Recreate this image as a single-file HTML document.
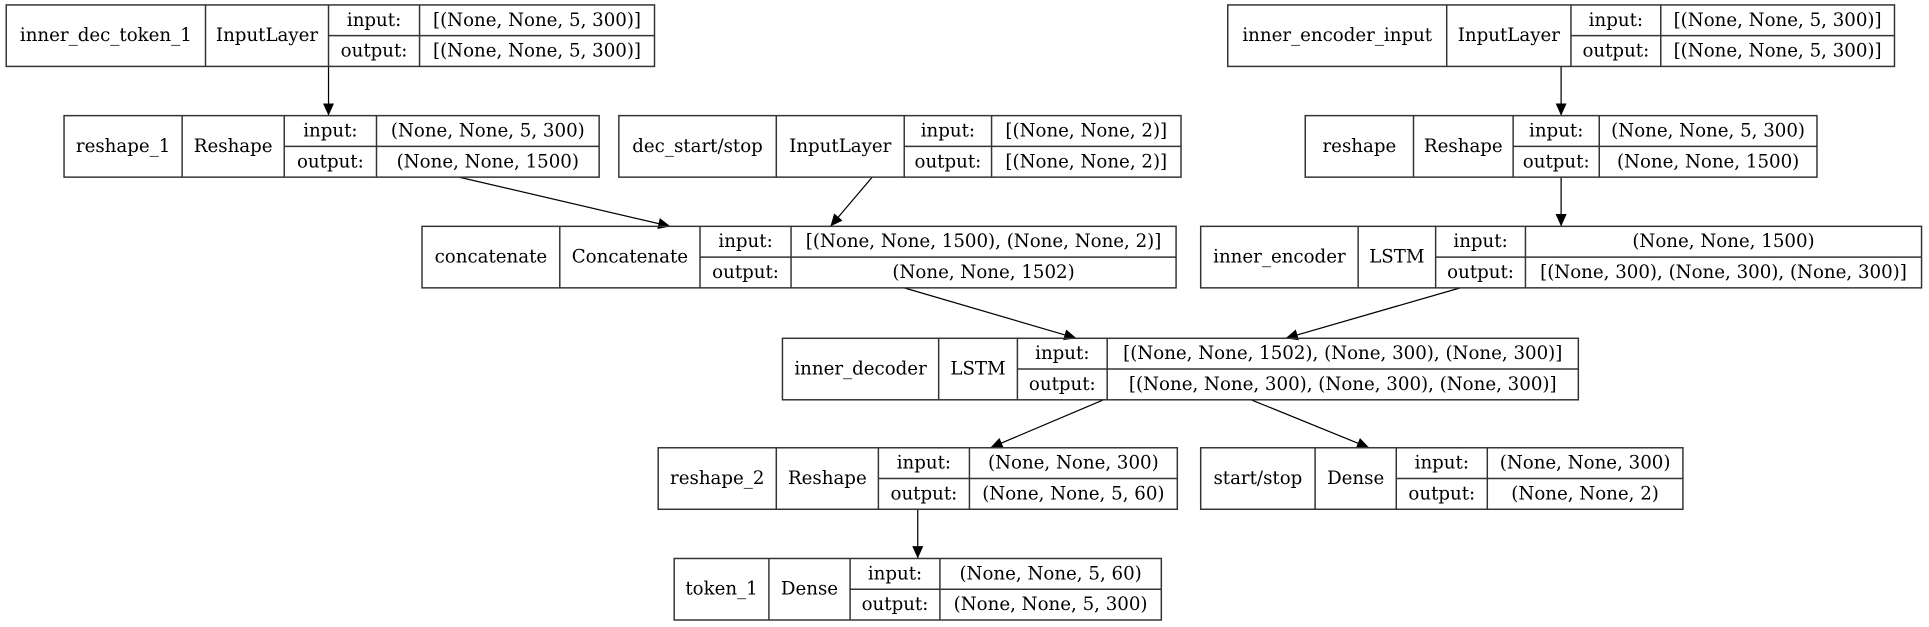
<!DOCTYPE html>
<html><head><meta charset="utf-8"><style>
html,body{margin:0;padding:0;background:#fff;}
svg{display:block}
text{font-family:"DejaVu Serif","Liberation Serif",serif;font-size:14.8px;fill:#000;text-anchor:middle;dominant-baseline:central}
rect,line.d{fill:none;stroke:#333;stroke-width:1.2}
line.e{stroke:#000;stroke-width:1}
</style></head><body>
<svg width="1929" height="627" viewBox="0 0 1568 509.7" xmlns="http://www.w3.org/2000/svg">
<defs><marker id="a" markerUnits="userSpaceOnUse" markerWidth="12" markerHeight="10" refX="10" refY="4.5" orient="auto"><path d="M0,0 L10,4.5 L0,9 z" fill="#000"/></marker></defs>
<g>
<line class="e" x1="267" y1="54" x2="267" y2="94" marker-end="url(#a)"/>
<line class="e" x1="373" y1="144" x2="545" y2="184" marker-end="url(#a)"/>
<line class="e" x1="709" y1="144" x2="675" y2="184" marker-end="url(#a)"/>
<line class="e" x1="1269" y1="54" x2="1269" y2="94" marker-end="url(#a)"/>
<line class="e" x1="1269" y1="144" x2="1269" y2="184" marker-end="url(#a)"/>
<line class="e" x1="735" y1="234" x2="875" y2="275" marker-end="url(#a)"/>
<line class="e" x1="1187" y1="234" x2="1045" y2="275" marker-end="url(#a)"/>
<line class="e" x1="897" y1="325" x2="805" y2="364" marker-end="url(#a)"/>
<line class="e" x1="1017" y1="325" x2="1113" y2="364" marker-end="url(#a)"/>
<line class="e" x1="746" y1="414" x2="746" y2="454" marker-end="url(#a)"/>
</g>

<rect x="5" y="4" width="527" height="50"/><line class="d" x1="167" y1="4" x2="167" y2="54"/><line class="d" x1="267" y1="4" x2="267" y2="54"/><line class="d" x1="341" y1="4" x2="341" y2="54"/><line class="d" x1="267" y1="29" x2="532" y2="29"/>
<text x="86" y="29">inner_dec_token_1</text><text x="217" y="29">InputLayer</text><text x="304" y="16.5">input:</text><text x="304" y="41.5">output:</text><text x="436.5" y="16.5">[(None, None, 5, 300)]</text><text x="436.5" y="41.5">[(None, None, 5, 300)]</text>

<rect x="52" y="94" width="435" height="50"/><line class="d" x1="148" y1="94" x2="148" y2="144"/><line class="d" x1="231" y1="94" x2="231" y2="144"/><line class="d" x1="306" y1="94" x2="306" y2="144"/><line class="d" x1="231" y1="119" x2="487" y2="119"/>
<text x="100" y="119">reshape_1</text><text x="189.5" y="119">Reshape</text><text x="268.5" y="106.5">input:</text><text x="268.5" y="131.5">output:</text><text x="396.5" y="106.5">(None, None, 5, 300)</text><text x="396.5" y="131.5">(None, None, 1500)</text>

<rect x="503" y="94" width="457" height="50"/><line class="d" x1="631" y1="94" x2="631" y2="144"/><line class="d" x1="735" y1="94" x2="735" y2="144"/><line class="d" x1="806" y1="94" x2="806" y2="144"/><line class="d" x1="735" y1="119" x2="960" y2="119"/>
<text x="567" y="119">dec_start/stop</text><text x="683" y="119">InputLayer</text><text x="770.5" y="106.5">input:</text><text x="770.5" y="131.5">output:</text><text x="883" y="106.5">[(None, None, 2)]</text><text x="883" y="131.5">[(None, None, 2)]</text>

<rect x="343" y="184" width="613" height="50"/><line class="d" x1="455" y1="184" x2="455" y2="234"/><line class="d" x1="569" y1="184" x2="569" y2="234"/><line class="d" x1="643" y1="184" x2="643" y2="234"/><line class="d" x1="569" y1="209" x2="956" y2="209"/>
<text x="399" y="209">concatenate</text><text x="512" y="209">Concatenate</text><text x="606" y="196.5">input:</text><text x="606" y="221.5">output:</text><text x="799.5" y="196.5">[(None, None, 1500), (None, None, 2)]</text><text x="799.5" y="221.5">(None, None, 1502)</text>

<rect x="998" y="4" width="542" height="50"/><line class="d" x1="1176" y1="4" x2="1176" y2="54"/><line class="d" x1="1277" y1="4" x2="1277" y2="54"/><line class="d" x1="1350" y1="4" x2="1350" y2="54"/><line class="d" x1="1277" y1="29" x2="1540" y2="29"/>
<text x="1087" y="29">inner_encoder_input</text><text x="1226.5" y="29">InputLayer</text><text x="1313.5" y="16.5">input:</text><text x="1313.5" y="41.5">output:</text><text x="1445" y="16.5">[(None, None, 5, 300)]</text><text x="1445" y="41.5">[(None, None, 5, 300)]</text>

<rect x="1061" y="94" width="416" height="50"/><line class="d" x1="1149" y1="94" x2="1149" y2="144"/><line class="d" x1="1230" y1="94" x2="1230" y2="144"/><line class="d" x1="1300" y1="94" x2="1300" y2="144"/><line class="d" x1="1230" y1="119" x2="1477" y2="119"/>
<text x="1105" y="119">reshape</text><text x="1189.5" y="119">Reshape</text><text x="1265" y="106.5">input:</text><text x="1265" y="131.5">output:</text><text x="1388.5" y="106.5">(None, None, 5, 300)</text><text x="1388.5" y="131.5">(None, None, 1500)</text>

<rect x="976" y="184" width="586" height="50"/><line class="d" x1="1104" y1="184" x2="1104" y2="234"/><line class="d" x1="1167" y1="184" x2="1167" y2="234"/><line class="d" x1="1240" y1="184" x2="1240" y2="234"/><line class="d" x1="1167" y1="209" x2="1562" y2="209"/>
<text x="1040" y="209">inner_encoder</text><text x="1135.5" y="209">LSTM</text><text x="1203.5" y="196.5">input:</text><text x="1203.5" y="221.5">output:</text><text x="1401" y="196.5">(None, None, 1500)</text><text x="1401" y="221.5">[(None, 300), (None, 300), (None, 300)]</text>

<rect x="636" y="275" width="647" height="50"/><line class="d" x1="763" y1="275" x2="763" y2="325"/><line class="d" x1="827" y1="275" x2="827" y2="325"/><line class="d" x1="900" y1="275" x2="900" y2="325"/><line class="d" x1="827" y1="300" x2="1283" y2="300"/>
<text x="699.5" y="300">inner_decoder</text><text x="795" y="300">LSTM</text><text x="863.5" y="287.5">input:</text><text x="863.5" y="312.5">output:</text><text x="1091.5" y="287.5">[(None, None, 1502), (None, 300), (None, 300)]</text><text x="1091.5" y="312.5">[(None, None, 300), (None, 300), (None, 300)]</text>

<rect x="535" y="364" width="422" height="50"/><line class="d" x1="631" y1="364" x2="631" y2="414"/><line class="d" x1="714" y1="364" x2="714" y2="414"/><line class="d" x1="788" y1="364" x2="788" y2="414"/><line class="d" x1="714" y1="389" x2="957" y2="389"/>
<text x="583" y="389">reshape_2</text><text x="672.5" y="389">Reshape</text><text x="751" y="376.5">input:</text><text x="751" y="401.5">output:</text><text x="872.5" y="376.5">(None, None, 300)</text><text x="872.5" y="401.5">(None, None, 5, 60)</text>

<rect x="976" y="364" width="392" height="50"/><line class="d" x1="1069" y1="364" x2="1069" y2="414"/><line class="d" x1="1135" y1="364" x2="1135" y2="414"/><line class="d" x1="1209" y1="364" x2="1209" y2="414"/><line class="d" x1="1135" y1="389" x2="1368" y2="389"/>
<text x="1022.5" y="389">start/stop</text><text x="1102" y="389">Dense</text><text x="1172" y="376.5">input:</text><text x="1172" y="401.5">output:</text><text x="1288.5" y="376.5">(None, None, 300)</text><text x="1288.5" y="401.5">(None, None, 2)</text>

<rect x="548" y="454" width="396" height="50"/><line class="d" x1="625" y1="454" x2="625" y2="504"/><line class="d" x1="691" y1="454" x2="691" y2="504"/><line class="d" x1="764" y1="454" x2="764" y2="504"/><line class="d" x1="691" y1="479" x2="944" y2="479"/>
<text x="586.5" y="479">token_1</text><text x="658" y="479">Dense</text><text x="727.5" y="466.5">input:</text><text x="727.5" y="491.5">output:</text><text x="854" y="466.5">(None, None, 5, 60)</text><text x="854" y="491.5">(None, None, 5, 300)</text>
</svg>
</body></html>
